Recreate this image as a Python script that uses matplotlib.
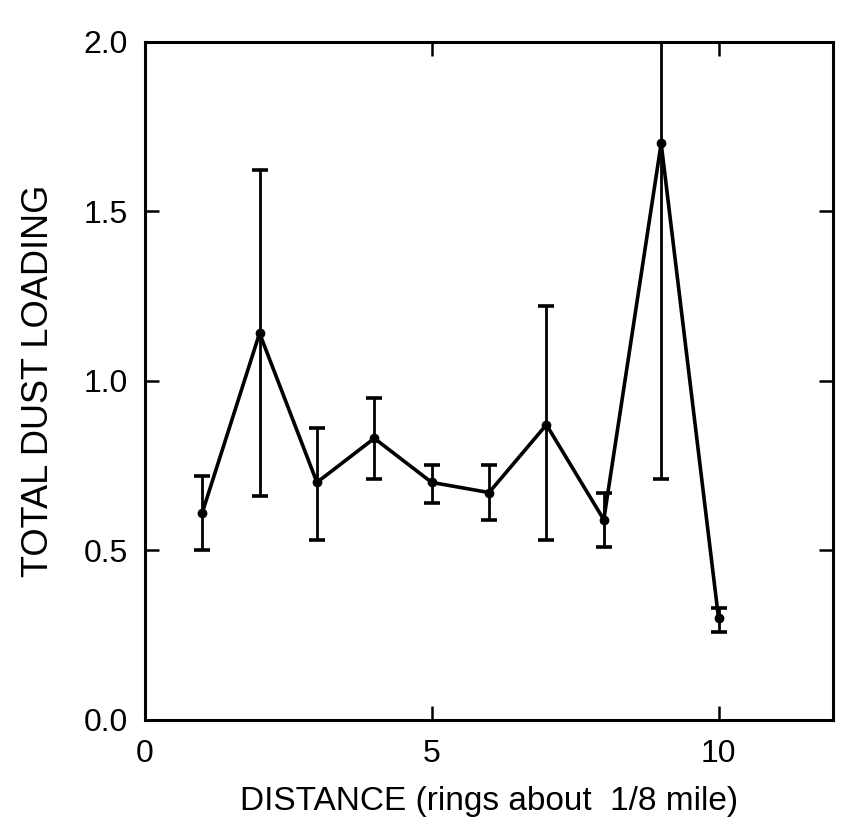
import matplotlib
matplotlib.use("Agg")
import matplotlib.pyplot as plt

plt.rcParams['font.family'] = ['Liberation Sans', 'DejaVu Sans']

# ring distance and mean dust loading
ring = [1, 2, 3, 4, 5, 6, 7, 8, 9, 10]
dust = [0.61, 1.14, 0.70, 0.83, 0.70, 0.67, 0.87, 0.59, 1.70, 0.30]
err_lo = [0.11, 0.48, 0.17, 0.12, 0.06, 0.08, 0.34, 0.08, 0.99, 0.04]
err_hi = [0.11, 0.48, 0.16, 0.12, 0.05, 0.08, 0.35, 0.08, 0.99, 0.03]

xticks = [0, 5, 10]
yticks = [0.0, 0.5, 1.0, 1.5, 2.0]

fig = plt.figure(figsize=(8.52, 8.33), dpi=100)
ax = fig.add_axes([0.170, 0.136, 0.808, 0.814])

ax.errorbar(ring, dust, yerr=[err_lo, err_hi], color='black', lw=2.6,
            elinewidth=2.0, capsize=6, capthick=2.6, marker='o', ms=6)

ax.set_xlim(0, 12)
ax.set_ylim(0, 2.0)
ax.set_xticks(xticks)
ax.set_yticks(yticks)
ax.set_yticklabels([f'{v:.1f}' for v in yticks])

ax.tick_params(direction='in', length=10, width=1.8, top=True, right=True,
               labelsize=23)
ax.tick_params(axis='x', pad=14)
ax.tick_params(axis='y', pad=12)
for s in ax.spines.values():
    s.set_linewidth(2.2)

ax.set_xlabel('DISTANCE (rings about  1/8 mile)', fontsize=24, labelpad=12)
ax.set_ylabel('TOTAL DUST LOADING', fontsize=26, labelpad=20)

fig.savefig('out.png', dpi=100)
